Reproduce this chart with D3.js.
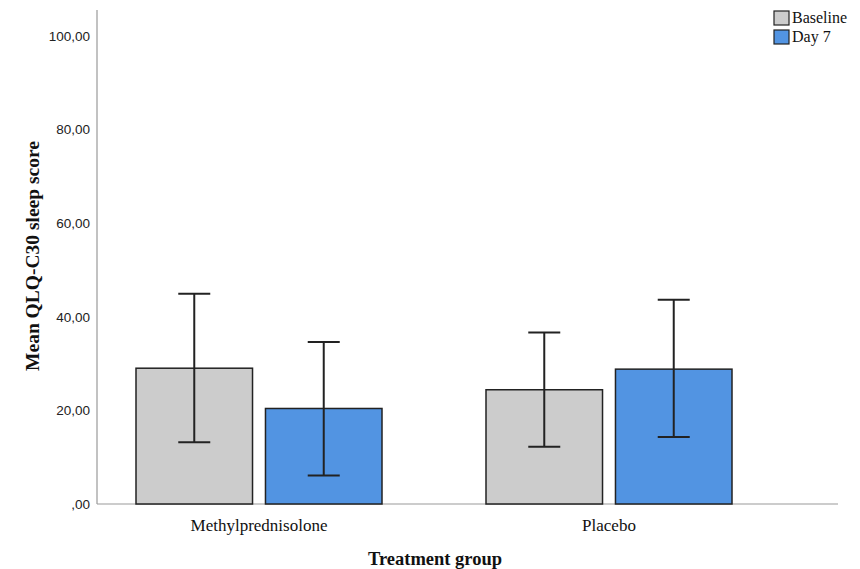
<!DOCTYPE html>
<html><head><meta charset="utf-8">
<script src="https://cdn.jsdelivr.net/npm/d3@7"></script>
<style>body{margin:0;background:#fff}</style>
</head><body>
<svg id="c" width="860" height="569"></svg>
<script>
const categories = ["Methylprednisolone", "Placebo"];
const series = ["Baseline", "Day 7"];
const meanBaseline = [29.0, 24.4];
const meanDay7 = [20.4, 28.8];
const ciLowBaseline = [13.2, 12.2];
const ciHighBaseline = [44.9, 36.6];
const ciLowDay7 = [6.1, 14.3];
const ciHighDay7 = [34.6, 43.6];
const yTicks = [0, 20, 40, 60, 80, 100];
const colors = ["#cccccc", "#5294e2"];

const data = [];
categories.forEach((c, i) => {
  data.push({cat: c, s: series[0], v: meanBaseline[i], lo: ciLowBaseline[i], hi: ciHighBaseline[i]});
  data.push({cat: c, s: series[1], v: meanDay7[i], lo: ciLowDay7[i], hi: ciHighDay7[i]});
});

const serif = "Liberation Serif, Times New Roman, serif";
const svg = d3.select("#c");
const y = d3.scaleLinear().domain([0, 105.5]).range([504, 10]);
const x0 = d3.scaleBand().domain(categories).range([84, 784]);
const x1 = d3.scaleBand().domain(series).range([0, 246]).paddingInner(0.1);
const color = d3.scaleOrdinal().domain(series).range(colors);

// axes lines
svg.append("line").attr("x1", 97).attr("x2", 97).attr("y1", y(105.5)).attr("y2", y(0))
  .attr("stroke", "#999").attr("stroke-width", 1.2);
svg.append("line").attr("x1", 97).attr("x2", 838).attr("y1", y(0)).attr("y2", y(0))
  .attr("stroke", "#999").attr("stroke-width", 1.2);

// y tick labels
const fmt = v => v === 0 ? ",00" : v.toFixed(2).replace(".", ",");
const yAxis = d3.axisLeft(y).tickValues(yTicks).tickFormat(fmt).tickSize(0).tickPadding(7);
const ga = svg.append("g").attr("transform", "translate(97,0)").call(yAxis);
ga.select(".domain").remove();
ga.selectAll("text").attr("font-family", "Liberation Sans, Arial, sans-serif").attr("font-size", 13.5).attr("fill", "#222");

// x tick labels
const xAxis = d3.axisBottom(x0).tickSize(0).tickPadding(0);
const gx = svg.append("g").attr("transform", `translate(0,${y(0)})`).call(xAxis);
gx.select(".domain").remove();
gx.selectAll("text").attr("dy", null).attr("y", 27).attr("font-family", serif).attr("font-size", 17).attr("fill", "#111");

// bars
const g = svg.append("g");
const bx = d => x0(d.cat) + (x0.bandwidth() - 246) / 2 + x1(d.s);
g.selectAll("rect.bar").data(data).join("rect")
  .attr("x", bx)
  .attr("width", x1.bandwidth())
  .attr("y", d => y(d.v))
  .attr("height", d => y(0) - y(d.v))
  .attr("fill", d => color(d.s))
  .attr("stroke", "#222").attr("stroke-width", 1.5);

// error bars
const cx = d => bx(d) + x1.bandwidth() / 2;
const cap = 16;
const eb = g.selectAll("g.eb").data(data).join("g").attr("stroke", "#222").attr("stroke-width", 2);
eb.append("line").attr("x1", cx).attr("x2", cx).attr("y1", d => y(d.lo)).attr("y2", d => y(d.hi));
eb.append("line").attr("x1", d => cx(d) - cap).attr("x2", d => cx(d) + cap).attr("y1", d => y(d.hi)).attr("y2", d => y(d.hi));
eb.append("line").attr("x1", d => cx(d) - cap).attr("x2", d => cx(d) + cap).attr("y1", d => y(d.lo)).attr("y2", d => y(d.lo));

// titles
svg.append("text").attr("transform", "translate(39,256) rotate(-90)").attr("text-anchor", "middle")
  .attr("font-family", serif).attr("font-weight", "bold").attr("font-size", 19.5)
  .attr("fill", "#111").text("Mean QLQ-C30 sleep score");
svg.append("text").attr("x", 435).attr("y", 565).attr("text-anchor", "middle")
  .attr("font-family", serif).attr("font-weight", "bold").attr("font-size", 18.5)
  .attr("fill", "#111").text("Treatment group");

// legend
const lg = svg.append("g").attr("transform", "translate(774,11)");
series.forEach((s, i) => {
  lg.append("rect").attr("x", 0).attr("y", i * 19).attr("width", 15).attr("height", 14)
    .attr("fill", color(s)).attr("stroke", "#222").attr("stroke-width", 1.2);
  lg.append("text").attr("x", 18).attr("y", i * 19 + 12).attr("font-family", serif)
    .attr("font-size", 16).attr("fill", "#111").text(s);
});
</script>
</body></html>
